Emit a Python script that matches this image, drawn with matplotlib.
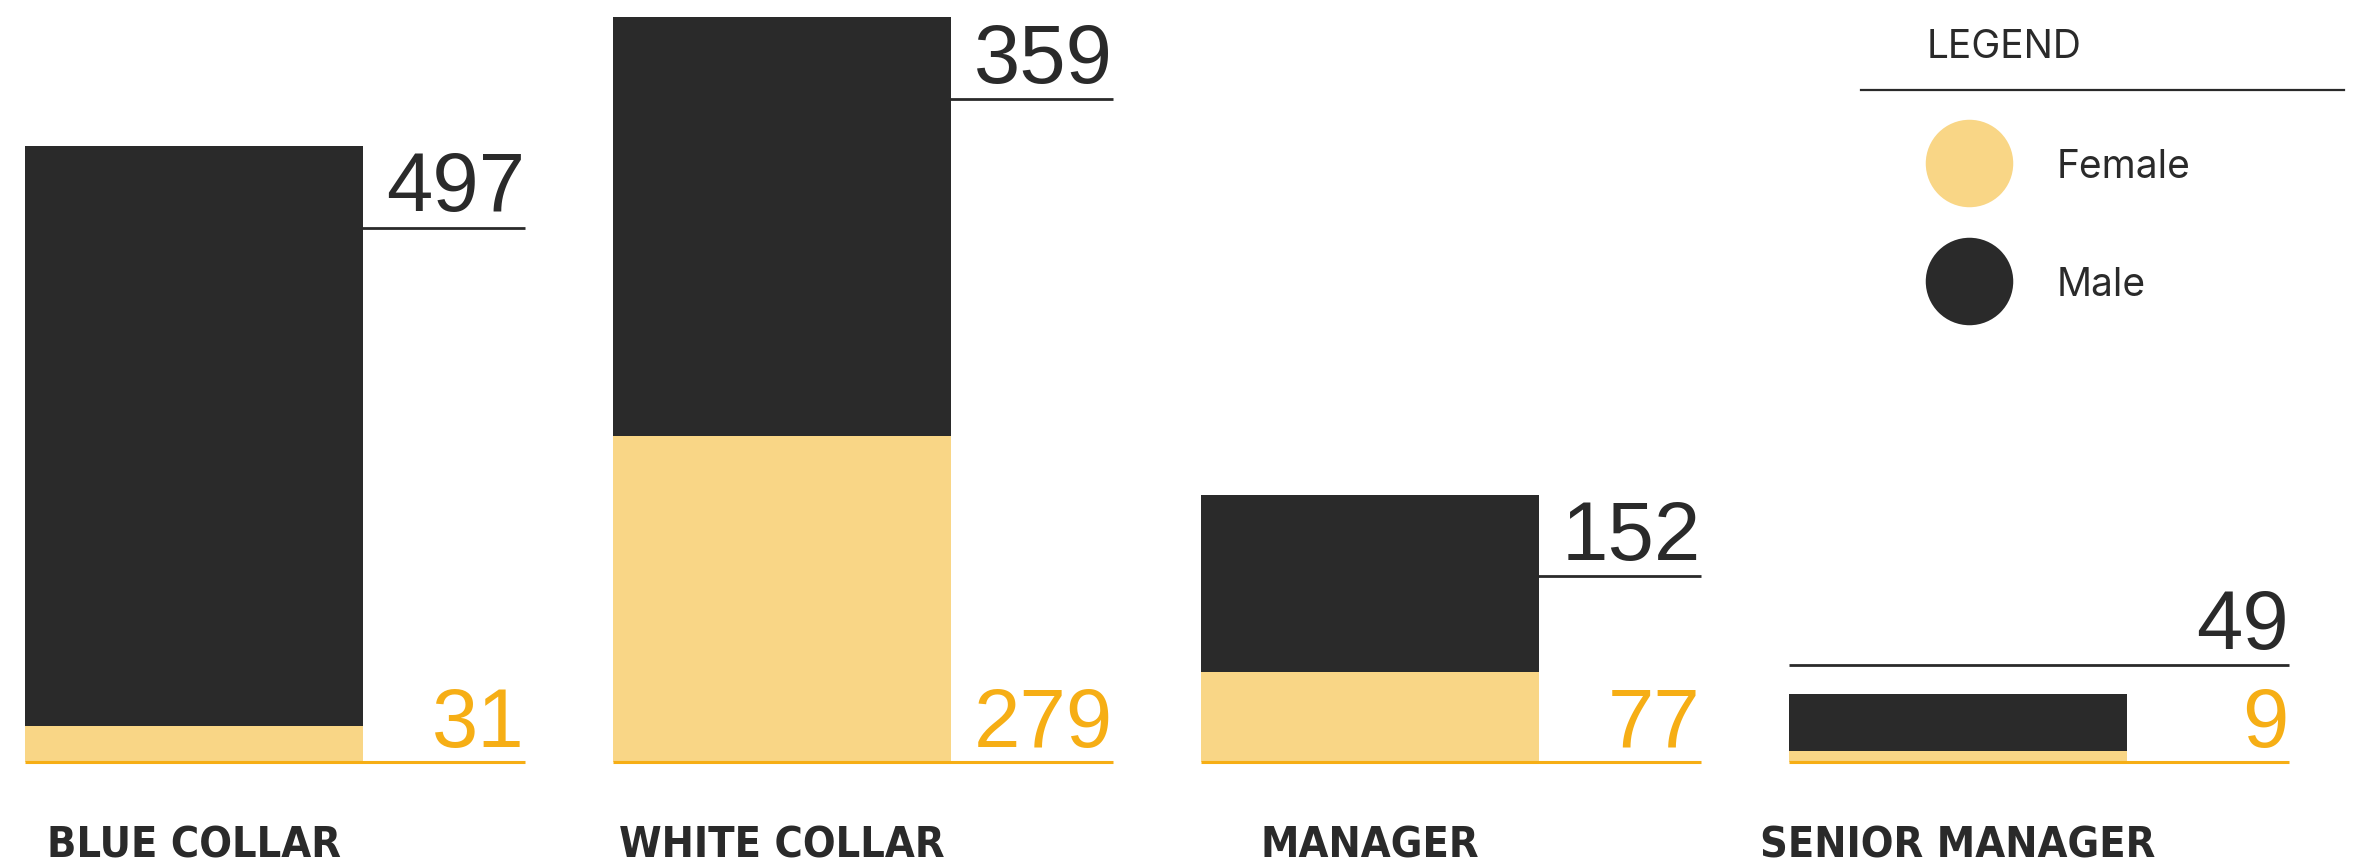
import matplotlib
matplotlib.use("Agg")
import matplotlib.pyplot as plt
from matplotlib.lines import Line2D
import numpy as np

# Datos
categories = ["BLUE COLLAR", "WHITE COLLAR", "MANAGER", "SENIOR MANAGER"]
female = [31, 279, 77, 9]
male = [497, 359, 152, 49]

DARK = "#2a2a2a"
LIGHT = "#f9d686"
ORANGE = "#f6ae15"
NUM_FONT = "Liberation Sans"

W, H = 2361, 863
fig = plt.figure(figsize=(W / 100, H / 100), dpi=100)

# escala: 1 unidad x = 588 px, 1 unidad y = 1.167 px
px_x = 588.0
px_y = 1.167
x0_px = 25
base_px = 101  # desde abajo
ax = fig.add_axes([0, 0, 1, 1])
ax.set_xlim(-x0_px / px_x, (W - x0_px) / px_x)
ax.set_ylim(-base_px / px_y, (H - base_px) / px_y)
ax.axis("off")

bar_w = 0.574
line_w = 0.85
x = np.arange(len(categories))
female = np.array(female)
male = np.array(male)
total = female + male

for i in x:
    ly = max(total[i] - 70, female[i] + 74)
    ax.plot([i, i + line_w], [ly, ly], color=DARK, lw=2, zorder=1,
            solid_capstyle="butt")
    ax.text(i + line_w, ly + 14, str(male[i]), ha="right", va="baseline",
            fontsize=60, color=DARK, family=NUM_FONT)
    ax.text(i + line_w, 13, str(female[i]), ha="right", va="baseline",
            fontsize=60, color=ORANGE, family=NUM_FONT)
    ax.plot([i, i + line_w], [0, 0], color=ORANGE, lw=2.2, zorder=3,
            solid_capstyle="butt")
    ax.text(i + bar_w / 2, -82, categories[i], ha="center", va="baseline",
            fontsize=31, color=DARK, family="DejaVu Sans",
            fontweight="bold", fontstretch="condensed")

ax.bar(x, female, width=bar_w, align="edge", color=LIGHT, zorder=2)
ax.bar(x, male, bottom=female, width=bar_w, align="edge", color=DARK, zorder=2)

# leyenda manual
def fx(p):
    return p / W

def fy(p):
    return 1 - p / H

fig.text(fx(1927), fy(48), "LEGEND", ha="left", va="center", fontsize=28,
         color=DARK, family="Inter")
fig.add_artist(Line2D([fx(1861), fx(2344)], [fy(90), fy(90)], color=DARK, lw=1.6,
                      transform=fig.transFigure))
for lab, col, yy in [("Female", LIGHT, 163), ("Male", DARK, 281)]:
    fig.add_artist(Line2D([fx(1969)], [fy(yy)], marker="o", markersize=63,
                          markerfacecolor=col, markeredgewidth=0, linestyle="none",
                          transform=fig.transFigure))
    fig.text(fx(2057), fy(yy + 5), lab, ha="left", va="center", fontsize=28,
             color=DARK, family="Inter")

fig.savefig("out.png", dpi=100)
